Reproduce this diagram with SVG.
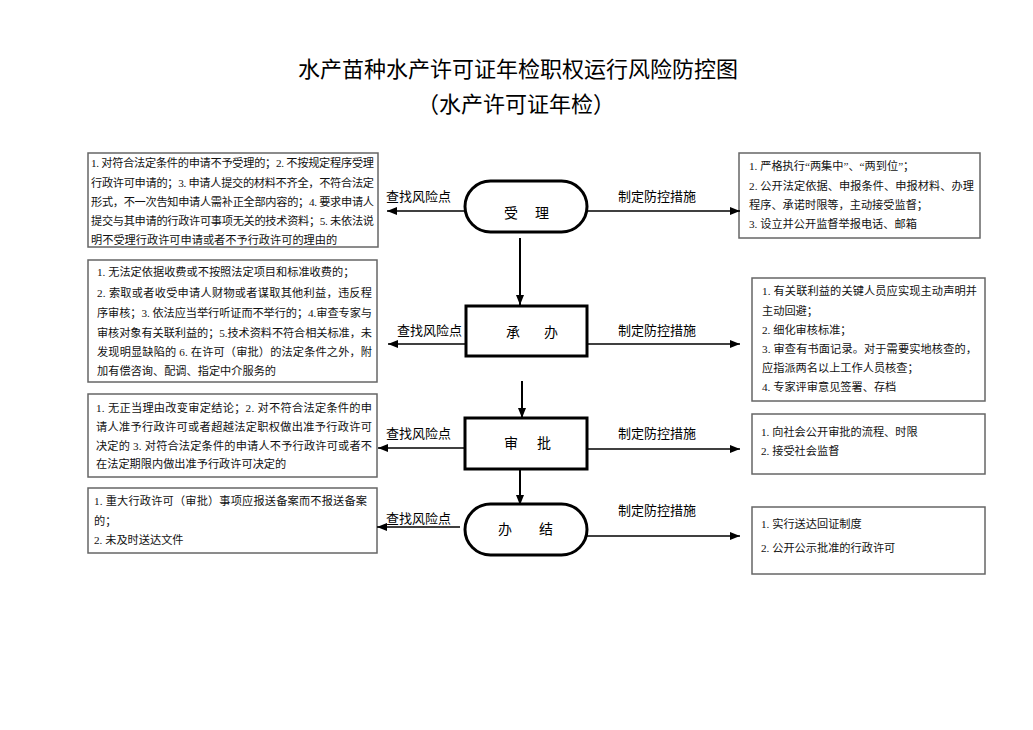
<svg xmlns="http://www.w3.org/2000/svg" width="1033" height="730" viewBox="0 0 1033 730">
<defs>
<style>
.title{font-family:"Noto Sans CJK SC","Liberation Sans",sans-serif;font-size:22px;fill:#000;text-anchor:middle}
.box{fill:#fff;stroke:#666;stroke-width:1.5}
.bt{font-family:"Liberation Serif","Noto Sans CJK SC",serif;font-size:11.2px;fill:#111}
.node{fill:#fff;stroke:#000;stroke-width:3}
.nt{font-family:"Liberation Serif","Noto Sans CJK SC",serif;font-size:14px;fill:#000;text-anchor:middle}
.lbl{font-family:"Liberation Serif","Noto Sans CJK SC",serif;font-size:13px;fill:#000}
.arr{fill:none;stroke:#000;stroke-width:1.5;marker-end:url(#ah)}
.varr{fill:none;stroke:#000;stroke-width:2;marker-end:url(#ah)}
</style>
<marker id="ah" markerUnits="userSpaceOnUse" markerWidth="10" markerHeight="8" refX="10" refY="4" orient="auto">
<path d="M0,0 L10,4 L0,8 z" fill="#000"/>
</marker>
</defs>
<rect width="1033" height="730" fill="#fff"/>
<text class="title" x="518" y="77">水产苗种水产许可证年检职权运行风险防控图</text>
<text class="title" x="516" y="112">（水产许可证年检）</text>

<g id="risk1">
<rect class="box" x="88" y="153" width="290" height="94"/>
<text class="bt" x="91" y="167" textLength="283" lengthAdjust="spacing">1. 对符合法定条件的申请不予受理的；2. 不按规定程序受理</text>
<text class="bt" x="91" y="187" textLength="283" lengthAdjust="spacing">行政许可申请的；3. 申请人提交的材料不齐全，不符合法定</text>
<text class="bt" x="91" y="206" textLength="283" lengthAdjust="spacing">形式，不一次告知申请人需补正全部内容的；4. 要求申请人</text>
<text class="bt" x="91" y="225" textLength="283" lengthAdjust="spacing">提交与其申请的行政许可事项无关的技术资料；5. 未依法说</text>
<text class="bt" x="91" y="244">明不受理行政许可申请或者不予行政许可的理由的</text>
</g>
<g id="measure1">
<rect class="box" x="739" y="153" width="241" height="85"/>
<text class="bt" x="749" y="170">1. 严格执行“两集中”、“两到位”；</text>
<text class="bt" x="749" y="190" textLength="225" lengthAdjust="spacing">2.  公开法定依据、申报条件、申报材料、办理</text>
<text class="bt" x="749" y="209">程序、承诺时限等，主动接受监督；</text>
<text class="bt" x="749" y="228">3. 设立并公开监督举报电话、邮箱</text>
</g>
<g id="risk2">
<rect class="box" x="88" y="260" width="289" height="122"/>
<text class="bt" x="97" y="276">1. 无法定依据收费或不按照法定项目和标准收费的；</text>
<text class="bt" x="97" y="297" textLength="275" lengthAdjust="spacing">2. 索取或者收受申请人财物或者谋取其他利益，违反程</text>
<text class="bt" x="97" y="317" textLength="275" lengthAdjust="spacing">序审核；3. 依法应当举行听证而不举行的；4.审查专家与</text>
<text class="bt" x="97" y="337" textLength="275" lengthAdjust="spacing">审核对象有关联利益的；5.技术资料不符合相关标准，未</text>
<text class="bt" x="97" y="356" textLength="275" lengthAdjust="spacing">发现明显缺陷的 6. 在许可（审批）的法定条件之外，附</text>
<text class="bt" x="97" y="375">加有偿咨询、配调、指定中介服务的</text>
</g>
<g id="measure2">
<rect class="box" x="752" y="278" width="233" height="123"/>
<text class="bt" x="762" y="295" textLength="215" lengthAdjust="spacing">1. 有关联利益的关键人员应实现主动声明并</text>
<text class="bt" x="762" y="315">主动回避；</text>
<text class="bt" x="762" y="334">2. 细化审核标准；</text>
<text class="bt" x="762" y="353" textLength="215" lengthAdjust="spacing">3. 审查有书面记录。对于需要实地核查的，</text>
<text class="bt" x="762" y="372">应指派两名以上工作人员核查；</text>
<text class="bt" x="762" y="391">4. 专家评审意见签署、存档</text>
</g>
<g id="risk3">
<rect class="box" x="88" y="394" width="289" height="83"/>
<text class="bt" x="96" y="412" textLength="276" lengthAdjust="spacing">1. 无正当理由改变审定结论；2. 对不符合法定条件的申</text>
<text class="bt" x="96" y="431" textLength="276" lengthAdjust="spacing">请人准予行政许可或者超越法定职权做出准予行政许可</text>
<text class="bt" x="96" y="450" textLength="276" lengthAdjust="spacing">决定的 3. 对符合法定条件的申请人不予行政许可或者不</text>
<text class="bt" x="96" y="468">在法定期限内做出准予行政许可决定的</text>
</g>
<g id="measure3">
<rect class="box" x="752" y="414" width="233" height="60"/>
<text class="bt" x="761" y="436">1. 向社会公开审批的流程、时限</text>
<text class="bt" x="761" y="455">2. 接受社会监督</text>
</g>
<g id="risk4">
<rect class="box" x="88" y="488" width="289" height="65"/>
<text class="bt" x="94" y="505" textLength="273" lengthAdjust="spacing">1. 重大行政许可（审批）事项应报送备案而不报送备案</text>
<text class="bt" x="94" y="525">的；</text>
<text class="bt" x="94" y="544">2. 未及时送达文件</text>
</g>
<g id="measure4">
<rect class="box" x="752" y="507" width="233" height="67"/>
<text class="bt" x="761" y="528">1. 实行送达回证制度</text>
<text class="bt" x="761" y="552">2. 公开公示批准的行政许可</text>
</g>

<g id="n-shouli">
<rect class="node" x="465" y="181" width="122" height="51" rx="25.5"/>
<text class="nt" y="218"><tspan x="511">受</tspan><tspan x="542">理</tspan></text>
</g>
<g id="n-chengban">
<rect class="node" x="466" y="306" width="121" height="50"/>
<text class="nt" y="337"><tspan x="513">承</tspan><tspan x="551">办</tspan></text>
</g>
<g id="n-shenpi">
<rect class="node" x="465" y="418" width="122" height="51"/>
<text class="nt" y="448"><tspan x="511">审</tspan><tspan x="544">批</tspan></text>
</g>
<g id="n-banjie">
<rect class="node" x="465" y="504" width="122" height="51" rx="25.5"/>
<text class="nt" y="534"><tspan x="505">办</tspan><tspan x="546">结</tspan></text>
</g>

<g id="connectors">
<path class="varr" d="M520,238 L520,305"/>
<path class="varr" d="M522,381 L522,418"/>
<path class="varr" d="M520,469 L520,505"/>
<path class="arr" d="M465,211 L387,211"/>
<path class="arr" d="M588,211 L740,211"/>
<path class="arr" d="M466,344 L388,344"/>
<path class="arr" d="M587,344 L740,344"/>
<path class="arr" d="M465,448 L378,448"/>
<path class="arr" d="M587,449 L740,449"/>
<path class="arr" d="M460,527 L377,527"/>
<path class="arr" d="M587,536 L740,536"/>
<text class="lbl" x="386" y="201">查找风险点</text>
<text class="lbl" x="618" y="201">制定防控措施</text>
<text class="lbl" x="397" y="335">查找风险点</text>
<text class="lbl" x="618" y="335">制定防控措施</text>
<text class="lbl" x="386" y="438">查找风险点</text>
<text class="lbl" x="618" y="438">制定防控措施</text>
<text class="lbl" x="386" y="523">查找风险点</text>
<text class="lbl" x="618" y="515">制定防控措施</text>
</g>
</svg>
